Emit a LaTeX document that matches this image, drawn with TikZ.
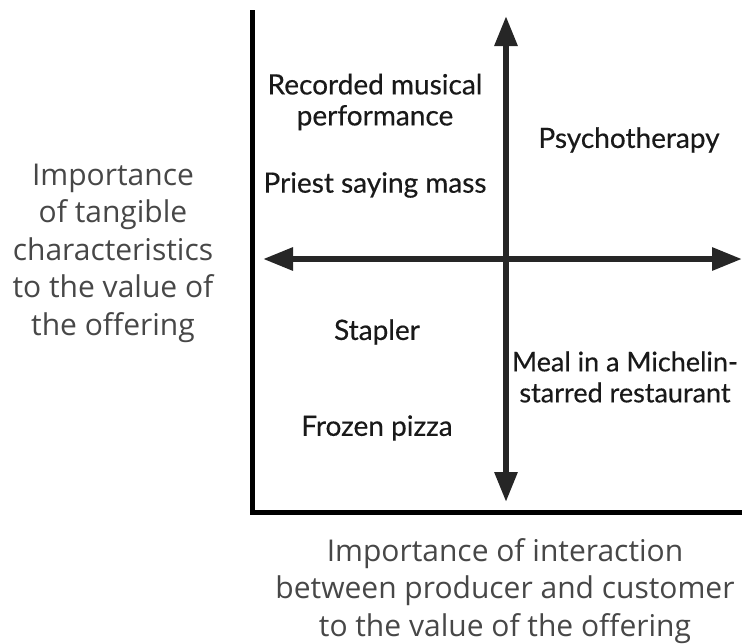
\documentclass[tikz,border=0pt]{standalone}
\usepackage{fontspec}
\setmainfont{Open Sans}
\newfontfamily\itemfont[FakeBold=0.4]{Lato}
\usetikzlibrary{arrows.meta}

\begin{document}
\begin{tikzpicture}[x=1pt,y=-1pt,
    axis/.style={line width=5pt,draw=black},
    dbl/.style={{Triangle[length=30pt,width=22pt]}-{Triangle[length=30pt,width=22pt]},line width=6pt,draw=black!85},
    item/.style={align=center,font=\itemfont\fontsize{28}{31}\selectfont,text=black!90,inner sep=0pt},
    axlabel/.style={align=center,font=\fontsize{30}{37.5}\selectfont,text=black!72,inner sep=0pt}
  ]
  \useasboundingbox (0,0) rectangle (742,643);

  % frame of the chart
  \coordinate (ytop) at (252,10);
  \coordinate (origin) at (252,512);
  \coordinate (xend) at (742,512);
  \draw[axis] (ytop) -- (origin) -- (xend);

  % the two double arrows
  \coordinate (up) at (506,16);
  \coordinate (down) at (506,502);
  \coordinate (west) at (263,259);
  \coordinate (east) at (742,259);
  \draw[dbl] (west) -- (east);
  \draw[dbl] (up) -- (down);

  \node[item] (rec) at (375,102) {Recorded musical\\performance};
  \node[item] (priest) at (375,185) {Priest saying mass};
  \node[item] (psy) at (629,140) {Psychotherapy};
  \node[item] (stapler) at (377,332) {Stapler};
  \node[item] (pizza) at (377,428) {Frozen pizza};
  \node[item,font=\itemfont\fontsize{27}{31}\selectfont] (meal) at (625,377) {Meal in a Michelin-\\starred restaurant};

  \node[axlabel] (vlabel) at (113,253)
    {Importance\\of tangible\\characteristics\\to the value of\\the offering};
  \node[axlabel] (hlabel) at (505,591)
    {Importance of interaction\\between producer and customer\\to the value of the offering};

\end{tikzpicture}
\end{document}
